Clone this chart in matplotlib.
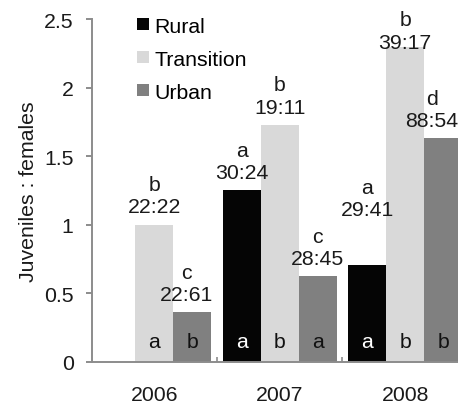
import numpy as np
import matplotlib.pyplot as plt
from matplotlib.patches import Patch

plt.rcParams['font.family'] = ['Liberation Sans', 'DejaVu Sans']

years = ['2006', '2007', '2008']
series = ['Rural', 'Transition', 'Urban']

# juveniles and females counted per habitat and year (no rural sample in 2006)
rural_juv = [np.nan, 30, 29]
rural_fem = [np.nan, 24, 41]
trans_juv = [22, 19, 39]
trans_fem = [22, 11, 17]
urban_juv = [22, 28, 88]
urban_fem = [61, 45, 54]

# significance letters: between habitats (above bars) and between years (in bars)
rural_top = ['', 'a', 'a']
trans_top = ['b', 'b', 'b']
urban_top = ['c', 'c', 'd']
rural_in = ['', 'a', 'a']
trans_in = ['a', 'b', 'b']
urban_in = ['b', 'a', 'b']

colors = ['#050505', '#d9d9d9', '#808080']
in_colors = ['white', '#111111', '#111111']
axis_grey = '#8c8c8c'
fs = 15.3

juv = [rural_juv, trans_juv, urban_juv]
fem = [rural_fem, trans_fem, urban_fem]
top_letters = [rural_top, trans_top, urban_top]
in_letters = [rural_in, trans_in, urban_in]

# label nudges in points, keyed (series, year), so stacked labels don't collide
nudges = {
    (2, 0): (-4, 0),
    (0, 2): (0, 27),
    (1, 2): (0, -9),
    (2, 2): (-8, 0),
}

fig = plt.figure(figsize=(4.58, 4.06), dpi=100)
ax = fig.add_axes([0.1998, 0.1067, 0.822, 0.8435])

x = np.arange(len(years))
w = 0.303
for i, name in enumerate(series):
    j = np.array(juv[i], dtype=float)
    f = np.array(fem[i], dtype=float)
    ratio = j / f
    pos = x + (i - 1) * w
    ax.bar(pos, np.nan_to_num(ratio), width=w, color=colors[i], linewidth=0)
    for k in range(len(years)):
        if np.isnan(ratio[k]):
            continue
        dx, dy = nudges.get((i, k), (0, 0))
        ax.annotate(f"{top_letters[i][k]}\n{int(j[k])}:{int(f[k])}",
                    xy=(pos[k], ratio[k]), xytext=(dx, 6 + dy),
                    textcoords='offset points', ha='center', va='bottom',
                    fontsize=fs, linespacing=1.22, color='#1a1a1a',
                    annotation_clip=False)
        ax.text(pos[k], 0.15, in_letters[i][k], ha='center', va='center',
                fontsize=fs, color=in_colors[i])

ax.set_xlim(-0.5, 2.5)
ax.set_ylim(0, 2.5)
ax.set_yticks([0, 0.5, 1, 1.5, 2, 2.5])
ax.set_yticklabels(['0', '0.5', '1', '1.5', '2', '2.5'])
ax.set_xticks(x)
ax.set_xticklabels(years)
ax.set_xticks([0.5, 1.5], minor=True)
ax.tick_params(axis='y', direction='out', length=4.3, width=1.4,
               color=axis_grey, pad=8.6, labelsize=fs, labelcolor='#1a1a1a')
ax.tick_params(axis='x', which='major', length=0, pad=17, labelsize=fs,
               labelcolor='#1a1a1a')
ax.tick_params(axis='x', which='minor', direction='in', length=3.6,
               width=1.2, color=axis_grey)

for side in ['top', 'right']:
    ax.spines[side].set_visible(False)
for side in ['left', 'bottom']:
    ax.spines[side].set_color(axis_grey)
    ax.spines[side].set_linewidth(1.4)

ax.set_ylabel('Juveniles : females', fontsize=fs, color='#1a1a1a', labelpad=4.5)

handles = [Patch(facecolor=c, edgecolor='none', label=s)
           for c, s in zip(colors, series)]
fig.legend(handles=handles, loc='upper left', bbox_to_anchor=(137 / 458, 1 - 17.5 / 406),
           frameon=False, fontsize=fs, borderpad=0, borderaxespad=0,
           handlelength=0.58, handleheight=0.55, handletextpad=0.25,
           labelspacing=0.66)

fig.savefig('out.png', dpi=100)
